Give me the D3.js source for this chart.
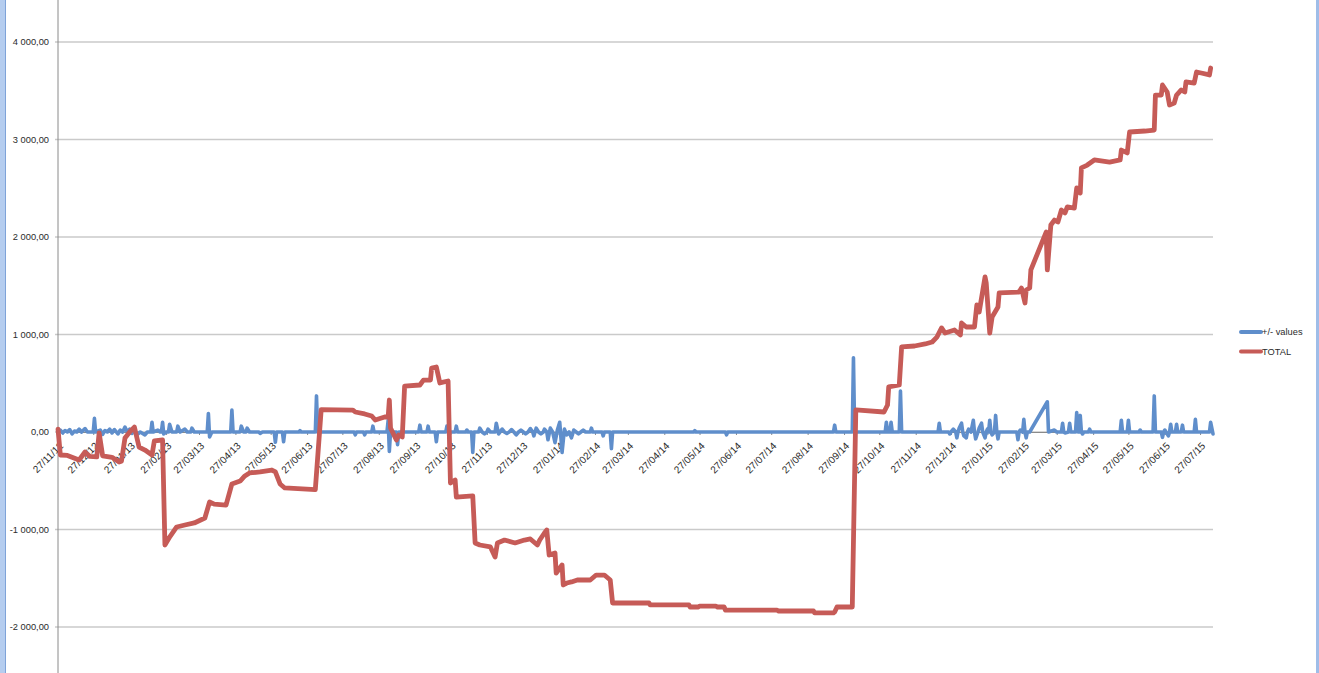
<!DOCTYPE html>
<html>
<head>
<meta charset="utf-8">
<script src="https://cdnjs.cloudflare.com/ajax/libs/d3/7.8.5/d3.min.js"></script>
<style>
  html, body { margin: 0; padding: 0; background: #fff; }
  #chart { width: 1319px; height: 673px; }
  .chart-d3 text { font-family: "Liberation Sans", Arial, sans-serif; fill: #2b2b2b; }
</style>
</head>
<body>
<div id="chart"></div>
<script>
// month ticks on the x axis
var tickLabels = ["27/11/12","27/12/12","27/01/13","27/02/13","27/03/13","27/04/13","27/05/13",
  "27/06/13","27/07/13","27/08/13","27/09/13","27/10/13","27/11/13","27/12/13","27/01/14",
  "27/02/14","27/03/14","27/04/14","27/05/14","27/06/14","27/07/14","27/08/14","27/09/14",
  "27/10/14","27/11/14","27/12/14","27/01/15","27/02/15","27/03/15","27/04/15","27/05/15",
  "27/06/15","27/07/15"];

var yTicks = [-2000, -1000, 0, 1000, 2000, 3000, 4000];

var seriesNames = ["+/- values", "TOTAL"];

// TOTAL (red), [date, value]
var totalPoints = [
  ["2012-11-27",30],["2012-11-29",-236],["2012-12-05",-240],["2012-12-15",-287],["2012-12-20",-205],
  ["2012-12-24",-250],["2012-12-30",-256],["2013-01-01",-10],["2013-01-04",-245],["2013-01-12",-260],
  ["2013-01-18",-308],["2013-01-20",-300],["2013-01-23",-62],["2013-01-27",0],["2013-01-31",51],
  ["2013-02-04",-154],["2013-02-09",-185],["2013-02-15",-236],["2013-02-17",-92],["2013-02-24",-82],
  ["2013-02-26",-1159],["2013-03-02",-1077],["2013-03-08",-974],["2013-03-15",-954],["2013-03-23",-933],
  ["2013-04-01",-882],["2013-04-05",-718],["2013-04-09",-740],["2013-04-19",-749],["2013-04-24",-533],
  ["2013-05-01",-503],["2013-05-05",-451],["2013-05-09",-420],["2013-05-18",-410],["2013-05-28",-390],
  ["2013-05-31",-410],["2013-06-04",-533],["2013-06-08",-574],["2013-07-04",-590],["2013-07-09",230],
  ["2013-08-05",225],["2013-08-07",205],["2013-08-15",185],["2013-08-21",164],["2013-08-24",123],
  ["2013-09-01",154],["2013-09-04",154],["2013-09-05",328],["2013-09-06",41],["2013-09-11",-82],
  ["2013-09-13",-31],["2013-09-16",-51],["2013-09-18",470],["2013-10-01",482],["2013-10-04",533],
  ["2013-10-10",533],["2013-10-11",656],["2013-10-15",667],["2013-10-18",503],["2013-10-25",523],
  ["2013-10-27",-523],["2013-10-31",-492],["2013-11-01",-667],["2013-11-15",-656],["2013-11-17",-1138],
  ["2013-11-21",-1159],["2013-11-30",-1179],["2013-12-04",-1282],["2013-12-06",-1138],["2013-12-12",-1108],
  ["2013-12-21",-1138],["2013-12-29",-1108],["2014-01-03",-1097],["2014-01-09",-1159],["2014-01-11",-1108],
  ["2014-01-15",-1036],["2014-01-17",-1005],["2014-01-19",-1262],["2014-01-24",-1241],["2014-01-25",-1446],
  ["2014-01-30",-1364],["2014-01-31",-1569],["2014-02-03",-1549],["2014-02-07",-1538],["2014-02-12",-1518],
  ["2014-02-23",-1518],["2014-02-28",-1467],["2014-03-07",-1467],["2014-03-12",-1518],["2014-03-14",-1754],
  ["2014-04-14",-1754],["2014-04-15",-1774],["2014-05-18",-1774],["2014-05-19",-1795],["2014-05-26",-1795],
  ["2014-05-27",-1785],["2014-06-10",-1785],["2014-06-11",-1795],["2014-06-17",-1795],["2014-06-18",-1826],
  ["2014-08-01",-1826],["2014-08-02",-1836],["2014-09-01",-1836],["2014-09-02",-1856],["2014-09-18",-1856],
  ["2014-09-19",-1846],["2014-09-21",-1795],["2014-10-04",-1795],
  ["2014-10-07",226],["2014-10-31",205],["2014-11-03",277],["2014-11-04",462],["2014-11-13",482],
  ["2014-11-15",872],["2014-11-26",882],["2014-12-05",903],["2014-12-11",923],["2014-12-15",974],
  ["2014-12-19",1067],["2014-12-22",1015],["2014-12-30",1046],["2015-01-04",995],["2015-01-05",1118],
  ["2015-01-09",1077],["2015-01-16",1077],["2015-01-18",1303],["2015-01-20",1231],["2015-01-25",1590],
  ["2015-01-26",1528],["2015-01-29",1015],["2015-01-31",1179],["2015-02-05",1282],["2015-02-06",1426],
  ["2015-02-23",1436],["2015-02-25",1477],["2015-02-28",1323],["2015-03-01",1456],["2015-03-04",1477],
  ["2015-03-05",1662],["2015-03-18",2051],["2015-03-19",1662],["2015-03-22",2123],["2015-03-25",2174],
  ["2015-03-28",2154],["2015-03-31",2277],["2015-04-03",2246],["2015-04-05",2308],["2015-04-11",2297],
  ["2015-04-13",2503],["2015-04-16",2451],["2015-04-17",2708],["2015-04-22",2738],["2015-04-28",2790],
  ["2015-05-11",2769],["2015-05-20",2790],["2015-05-21",2892],["2015-05-26",2862],["2015-05-28",3077],
  ["2015-06-10",3087],["2015-06-18",3097],["2015-06-19",3456],["2015-06-24",3456],["2015-06-25",3559],
  ["2015-06-29",3487],["2015-07-01",3354],["2015-07-05",3374],["2015-07-07",3456],["2015-07-11",3508],
  ["2015-07-14",3487],["2015-07-15",3590],["2015-07-22",3579],["2015-07-24",3692],["2015-07-28",3682],
  ["2015-08-04",3662],["2015-08-05",3733]];

// +/- values (blue), [date, value]
var deltaPoints = [
  ["2012-11-27",0],["2012-11-29",20],["2012-12-01",-10],["2012-12-03",15],["2012-12-05",0],["2012-12-07",25],
  ["2012-12-09",-20],["2012-12-11",10],["2012-12-13",0],["2012-12-15",30],["2012-12-17",0],["2012-12-20",35],
  ["2012-12-22",0],["2012-12-27",0],["2012-12-28",140],["2012-12-29",0],["2013-01-02",20],["2013-01-04",-25],
  ["2013-01-06",15],["2013-01-08",0],["2013-01-10",30],["2013-01-12",-10],["2013-01-14",25],["2013-01-17",-20],
  ["2013-01-19",20],["2013-01-21",0],["2013-01-23",50],["2013-01-25",0],["2013-01-27",30],["2013-01-29",-15],
  ["2013-01-31",35],["2013-02-02",-30],["2013-02-05",0],["2013-02-09",-30],["2013-02-11",0],["2013-02-14",0],
  ["2013-02-15",100],["2013-02-16",0],["2013-02-20",20],["2013-02-22",0],["2013-02-23",0],["2013-02-24",100],
  ["2013-02-25",-20],["2013-02-27",0],["2013-03-01",0],["2013-03-02",80],["2013-03-04",0],["2013-03-08",0],
  ["2013-03-09",60],["2013-03-11",0],["2013-03-15",30],["2013-03-17",0],["2013-03-20",0],["2013-03-21",40],
  ["2013-03-23",0],["2013-04-03",0],["2013-04-04",190],["2013-04-05",-50],["2013-04-07",0],["2013-04-23",0],
  ["2013-04-24",225],["2013-04-25",0],["2013-05-01",0],["2013-05-02",60],["2013-05-04",0],["2013-05-06",0],
  ["2013-05-07",40],["2013-05-09",0],["2013-05-17",0],["2013-05-18",-15],["2013-05-20",0],["2013-05-30",0],
  ["2013-05-31",-105],["2013-06-01",0],["2013-06-06",0],["2013-06-07",-100],["2013-06-08",0],["2013-06-20",0],
  ["2013-06-21",15],["2013-06-22",0],["2013-07-04",0],["2013-07-05",370],["2013-07-06",0],["2013-08-06",0],
  ["2013-08-07",-30],["2013-08-08",0],["2013-08-14",0],["2013-08-15",-30],["2013-08-16",0],["2013-08-21",0],
  ["2013-08-22",60],["2013-08-23",0],["2013-09-03",0],["2013-09-04",120],["2013-09-05",-200],["2013-09-06",0],
  ["2013-09-11",0],["2013-09-12",-130],["2013-09-13",0],["2013-09-30",0],["2013-10-01",70],["2013-10-02",0],
  ["2013-10-07",0],["2013-10-08",60],["2013-10-09",0],["2013-10-14",0],["2013-10-15",-100],["2013-10-16",0],
  ["2013-10-23",0],["2013-10-24",60],["2013-10-25",0],["2013-10-31",0],["2013-11-01",60],["2013-11-02",0],
  ["2013-11-09",0],["2013-11-10",20],["2013-11-11",0],["2013-11-14",0],["2013-11-15",-210],["2013-11-16",0],
  ["2013-11-20",0],["2013-11-21",40],["2013-11-23",0],["2013-11-25",-20],["2013-11-27",0],["2013-11-28",30],
  ["2013-11-30",0],["2013-12-04",0],["2013-12-05",90],["2013-12-07",-20],["2013-12-10",30],["2013-12-12",0],
  ["2013-12-14",-15],["2013-12-16",0],["2013-12-18",25],["2013-12-20",0],["2013-12-22",-30],["2013-12-24",0],
  ["2013-12-26",20],["2013-12-28",0],["2013-12-30",-20],["2014-01-01",0],["2014-01-03",35],["2014-01-05",0],
  ["2014-01-06",-40],["2014-01-08",40],["2014-01-10",0],["2014-01-12",-20],["2014-01-14",0],["2014-01-15",30],
  ["2014-01-17",0],["2014-01-18",-80],["2014-01-20",40],["2014-01-22",0],["2014-01-24",-110],["2014-01-26",20],
  ["2014-01-28",100],["2014-01-30",-210],["2014-02-01",30],["2014-02-03",-30],["2014-02-05",0],["2014-02-07",-60],
  ["2014-02-09",20],["2014-02-11",0],["2014-02-13",-20],["2014-02-15",0],["2014-02-17",20],["2014-02-19",0],
  ["2014-02-23",0],["2014-02-24",40],["2014-02-25",0],["2014-03-05",0],["2014-03-06",-40],["2014-03-07",0],
  ["2014-03-12",0],["2014-03-13",-170],["2014-03-14",0],["2014-05-22",0],["2014-05-23",15],["2014-05-24",0],
  ["2014-06-18",0],["2014-06-19",-30],["2014-06-20",0],["2014-09-18",0],["2014-09-19",70],["2014-09-20",0],
  ["2014-10-04",0],["2014-10-05",760],["2014-10-06",0],["2014-11-01",0],["2014-11-02",100],["2014-11-03",0],
  ["2014-11-05",0],["2014-11-06",100],["2014-11-07",0],["2014-11-13",0],["2014-11-14",420],["2014-11-15",0],
  ["2014-12-16",0],["2014-12-17",90],["2014-12-18",0],["2014-12-25",0],["2014-12-26",-20],["2014-12-27",0],
  ["2014-12-29",30],["2014-12-31",0],["2015-01-01",-60],["2015-01-02",0],["2015-01-03",40],["2015-01-05",90],
  ["2015-01-06",0],["2015-01-07",-40],["2015-01-09",-60],["2015-01-10",0],["2015-01-11",30],["2015-01-13",0],
  ["2015-01-15",120],["2015-01-16",0],["2015-01-17",-70],["2015-01-19",0],["2015-01-20",40],["2015-01-22",90],
  ["2015-01-23",0],["2015-01-25",-60],["2015-01-26",0],["2015-01-27",30],["2015-01-28",0],["2015-01-29",120],
  ["2015-01-30",0],["2015-01-31",-30],["2015-02-02",0],["2015-02-03",170],["2015-02-04",0],["2015-02-05",-70],
  ["2015-02-06",0],["2015-02-21",0],["2015-02-22",-80],["2015-02-23",0],["2015-02-24",20],["2015-02-26",0],
  ["2015-02-27",130],["2015-02-28",0],["2015-03-01",-60],["2015-03-02",0],["2015-03-04",0],["2015-03-19",310],
  ["2015-03-20",0],["2015-03-25",20],["2015-03-27",0],["2015-03-31",0],["2015-04-01",90],["2015-04-02",0],
  ["2015-04-03",-10],["2015-04-06",0],["2015-04-07",90],["2015-04-08",0],["2015-04-12",0],["2015-04-13",200],
  ["2015-04-14",0],["2015-04-15",0],["2015-04-16",170],["2015-04-17",0],["2015-04-18",-20],["2015-04-19",0],
  ["2015-04-23",0],["2015-04-24",30],["2015-04-25",0],["2015-05-20",0],["2015-05-21",120],["2015-05-22",0],
  ["2015-05-26",0],["2015-05-27",120],["2015-05-28",0],["2015-06-05",0],["2015-06-06",20],["2015-06-07",0],
  ["2015-06-17",0],["2015-06-18",370],["2015-06-19",0],["2015-06-24",0],["2015-06-25",-55],["2015-06-26",0],
  ["2015-06-27",20],["2015-06-28",0],["2015-06-30",-40],["2015-07-01",0],["2015-07-02",80],["2015-07-03",0],
  ["2015-07-06",0],["2015-07-07",80],["2015-07-08",0],["2015-07-11",0],["2015-07-12",70],["2015-07-13",0],
  ["2015-07-22",0],["2015-07-23",130],["2015-07-24",0],["2015-08-04",0],["2015-08-05",100],["2015-08-07",-20]];

class LineChartD3 {

  constructor(el, props) {
    this.svg = d3.select(el).append('svg')
      .attr('class', 'chart-d3')
      .attr('width', props.width)
      .attr('height', props.height);

    // window edges of the spreadsheet app
    this.svg.append('rect').attr('x', 0).attr('y', 0).attr('width', 5).attr('height', props.height)
      .attr('fill', '#b5cdef');
    this.svg.append('rect').attr('x', 5).attr('y', 0).attr('width', 1).attr('height', props.height)
      .attr('fill', '#7fa3d8');
    this.svg.append('rect').attr('x', props.width - 3).attr('y', 0).attr('width', 3).attr('height', props.height)
      .attr('fill', '#9fbde8');

    this.grid = this.svg.append('g').attr('class', 'grid');
    this.yAxis = this.svg.append('g').attr('class', 'y axis');
    this.xAxis = this.svg.append('g').attr('class', 'x axis');
    this.plot = this.svg.append('g');
    this.legend = this.svg.append('g').attr('class', 'chart-legend');

    this.update(el, props);
  }

  createScales(props) {
    var parse = d3.utcParse('%Y-%m-%d');
    this.xScale = d3.scaleUtc()
      .domain([parse('2012-11-27'), parse('2015-08-07')])
      .range([props.margin.left, props.width - props.margin.right]);

    // -2000 and 4000 gridlines sit at these pixel rows
    this.yScale = d3.scaleLinear()
      .domain([-2000, 4000])
      .range([627, 42]);
  }

  addAxes(props) {
    var loc = d3.formatLocale({decimal: ',', thousands: ' ', grouping: [3], currency: ['', ''], minus: '-'});
    var fmt = loc.format(',.2f');
    var x0 = props.margin.left, x1 = props.width - props.margin.right;

    // horizontal gridlines
    this.grid.selectAll('line').data(yTicks).enter().append('line')
      .attr('x1', x0 - 3).attr('x2', x1)
      .attr('y1', d => this.yScale(d)).attr('y2', d => this.yScale(d))
      .attr('stroke', '#cacaca').attr('stroke-width', 1.3);

    // vertical axis line runs the full height
    this.yAxis.append('line')
      .attr('x1', x0).attr('x2', x0).attr('y1', 0).attr('y2', props.height)
      .attr('stroke', '#8a8a8a').attr('stroke-width', 1);

    this.yAxis.selectAll('text').data(yTicks).enter().append('text')
      .attr('x', x0 - 9).attr('y', d => this.yScale(d))
      .attr('dy', '0.35em')
      .style('text-anchor', 'end')
      .style('font-size', '9.3px')
      .text(d => fmt(d));

    var parseTick = d3.utcParse('%d/%m/%y');
    var xAxisScale = d3.axisBottom(this.xScale)
      .tickValues(tickLabels.map(parseTick))
      .tickFormat(d3.utcFormat('%d/%m/%y'))
      .tickSize(3)
      .tickSizeOuter(0);

    this.xAxis.attr('transform', 'translate(0,' + this.yScale(0) + ')').call(xAxisScale);
    this.xAxis.select('.domain').attr('stroke', '#8a8a8a');
    this.xAxis.selectAll('.tick line').attr('stroke', '#8a8a8a');
    this.xAxis.selectAll('.tick text')
      .attr('x', 0).attr('y', 0).attr('dy', '0.35em')
      .attr('transform', 'translate(3,12) rotate(-45)')
      .style('text-anchor', 'end')
      .style('font-family', '"Liberation Sans", Arial, sans-serif')
      .style('font-size', '10px')
      .attr('fill', '#2b2b2b');
  }

  update(el, props) {
    this.createScales(props);
    this.addAxes(props);

    var parse = d3.utcParse('%Y-%m-%d');
    var line = d3.line()
      .x(d => this.xScale(parse(d[0])))
      .y(d => this.yScale(d[1]));

    this.plot.append('path').datum(deltaPoints)
      .attr('d', line)
      .attr('fill', 'none')
      .attr('stroke', props.colors[0])
      .attr('stroke-width', 3.6)
      .attr('stroke-linejoin', 'round')
      .attr('stroke-linecap', 'round');

    this.plot.append('path').datum(totalPoints)
      .attr('d', line)
      .attr('fill', 'none')
      .attr('stroke', props.colors[1])
      .attr('stroke-width', 4.8)
      .attr('stroke-linejoin', 'round')
      .attr('stroke-linecap', 'round');

    this.configureLegend(props);
  }

  configureLegend(props) {
    var keys = this.legend.selectAll('.legend-key')
      .data(seriesNames).enter()
      .append('g')
      .attr('class', 'legend-key')
      .attr('transform', (d, i) => 'translate(1240,' + (332 + i * 19.5) + ')');

    keys.append('line')
      .attr('x1', 1).attr('x2', 21).attr('y1', 0).attr('y2', 0)
      .attr('stroke', (d, i) => props.colors[i])
      .attr('stroke-width', 4)
      .attr('stroke-linecap', 'round');

    keys.append('text')
      .attr('x', 22).attr('y', 0).attr('dy', '0.35em')
      .style('font-size', '9.3px')
      .text(d => d);
  }
}

var chart = new LineChartD3(document.getElementById('chart'), {
  width: 1319,
  height: 673,
  margin: {left: 58, right: 106},
  colors: ['#5f8ecb', '#c65b57']
});
</script>
</body>
</html>
